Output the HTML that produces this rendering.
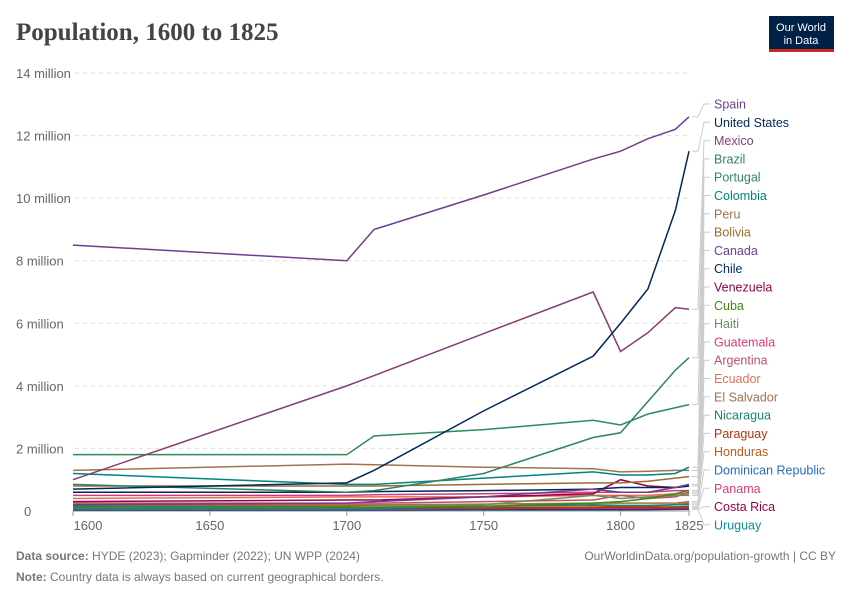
<!DOCTYPE html>
<html><head><meta charset="utf-8"><style>
body{margin:0;background:#fff;font-family:"Liberation Sans",sans-serif}
svg text{font-family:"Liberation Sans",sans-serif}
</style></head><body>
<svg id="chart" width="850" height="600">
<text x="16" y="40" style="font-family:'Liberation Serif',serif;font-weight:bold" font-size="25" fill="#444">Population, 1600 to 1825</text>
<g><rect x="769" y="16" width="65" height="36" fill="#002147"/><rect x="769" y="49" width="65" height="3" fill="#ce261e"/>
<text x="801" y="31" font-size="11" fill="#fff" text-anchor="middle">Our World</text><text x="801" y="44" font-size="11" fill="#fff" text-anchor="middle">in Data</text></g>
<g id="grid"></g><g id="lines"></g><g id="legend"></g>
<text x="16" y="560" font-size="12" fill="#777"><tspan font-weight="bold">Data source:</tspan> HYDE (2023); Gapminder (2022); UN WPP (2024)</text>
<text x="836" y="560" font-size="12" fill="#777" text-anchor="end">OurWorldinData.org/population-growth | CC BY</text>
<text x="16" y="581" font-size="12" fill="#777"><tspan font-weight="bold">Note:</tspan> Country data is always based on current geographical borders.</text>
</svg>
<script>
const years=[1600,1700,1710,1750,1790,1800,1810,1820,1825];
const countries=["Spain","United States","Mexico","Brazil","Portugal","Colombia","Peru","Bolivia","Canada","Chile","Venezuela","Cuba","Haiti","Guatemala","Argentina","Ecuador","El Salvador","Nicaragua","Paraguay","Honduras","Dominican Republic","Panama","Costa Rica","Uruguay"];
const colors=["#6d3e91","#00295b","#883d74","#2c8465","#2d8a5a","#00847e","#a2724a","#9a6b33","#6d3e91","#00295b","#970046","#3c8a11","#6b8e5a","#d73c76","#c15065","#e56e5a","#a2724a","#18866b","#b13507","#c05917","#286bbb","#d73c76","#970046","#0b8d9a"];
const values=[
[8.5,8.0,9.0,10.1,11.25,11.5,11.9,12.2,12.6],
[0.7,0.9,1.3,3.2,4.95,6.0,7.1,9.6,11.5],
[1.0,4.0,4.33,5.67,7.0,5.1,5.7,6.5,6.45],
[0.85,0.6,0.65,1.2,2.35,2.5,3.5,4.5,4.9],
[1.8,1.8,2.4,2.6,2.9,2.75,3.1,3.3,3.4],
[1.2,0.85,0.85,1.05,1.25,1.15,1.15,1.2,1.4],
[1.3,1.5,1.48,1.4,1.35,1.25,1.27,1.3,1.3],
[0.8,0.8,0.8,0.85,0.9,0.9,0.95,1.05,1.1],
[0.2,0.25,0.3,0.45,0.7,0.6,0.6,0.75,0.85],
[0.6,0.6,0.62,0.65,0.7,0.75,0.75,0.75,0.8],
[0.3,0.35,0.35,0.45,0.55,1.0,0.8,0.75,0.8],
[0.1,0.1,0.1,0.15,0.25,0.3,0.4,0.55,0.65],
[0.1,0.1,0.15,0.2,0.5,0.4,0.45,0.5,0.5],
[0.5,0.5,0.52,0.55,0.6,0.6,0.6,0.65,0.65],
[0.25,0.25,0.25,0.3,0.35,0.5,0.4,0.45,0.6],
[0.4,0.45,0.45,0.45,0.5,0.5,0.5,0.55,0.55],
[0.2,0.2,0.2,0.22,0.25,0.25,0.25,0.25,0.3],
[0.15,0.12,0.12,0.15,0.2,0.18,0.18,0.2,0.2],
[0.1,0.1,0.1,0.1,0.12,0.12,0.12,0.13,0.14],
[0.15,0.15,0.15,0.15,0.18,0.15,0.15,0.2,0.25],
[0.05,0.05,0.05,0.08,0.1,0.1,0.1,0.1,0.1],
[0.08,0.08,0.08,0.08,0.1,0.1,0.1,0.1,0.1],
[0.04,0.04,0.04,0.05,0.05,0.05,0.05,0.06,0.06],
[0.02,0.02,0.02,0.03,0.03,0.03,0.04,0.05,0.06]];
const yTicks=[0,2,4,6,8,10,12,14];
const xTicks=[1600,1650,1700,1750,1800,1825];
const NS="http://www.w3.org/2000/svg";
const X=y=>73+(y-1600)*(689-73)/225, Y=v=>511-v*(511-73)/14;
function el(t,a,p){const e=document.createElementNS(NS,t);for(const k in a)e.setAttribute(k,a[k]);p.appendChild(e);return e;}
const grid=document.getElementById('grid');
yTicks.forEach(t=>{
 const l=el('line',{x1:75,x2:690,y1:Y(t),y2:Y(t),stroke:'#ddd','stroke-dasharray':t?'4 4':'',},grid);
 
 
 const tx=el('text',{x:t?16:24,y:Y(t)+5,'font-size':13,fill:'#666'},grid);tx.textContent=t?t+' million':'0';
 
 
});
el('line',{x1:73,x2:690,y1:511,y2:511,stroke:'#999'},grid);
xTicks.forEach(t=>{
 el('line',{x1:X(t),x2:X(t),y1:511,y2:516,stroke:'#999'},grid);
 const tx=el('text',{x:t==1600?88:X(t),y:530,'font-size':13,fill:'#666','text-anchor':'middle'},grid);tx.textContent=t;
 
 
});
const lines=document.getElementById('lines'),leg=document.getElementById('legend');
for(let i=countries.length-1;i>=0;i--){
 const p=el('polyline',{points:years.map((y,j)=>X(y)+','+Y(values[i][j])).join(' '),fill:'none',stroke:colors[i],'stroke-width':1.5},lines);
 
 
}
countries.forEach((c,i)=>{
 const ly=104+i*18.3, ey=Y(values[i][values[i].length-1]);
 const cn=el('polyline',{points:`692,${ey} 698,${ey} 704,${ly} 710,${ly}`,fill:'none',stroke:'#ccc'},leg);
 
 
 const t=el('text',{x:714,y:ly+4.5,'font-size':12.5,fill:colors[i]},leg);t.textContent=c;
 
 
});
</script>
</body></html>
